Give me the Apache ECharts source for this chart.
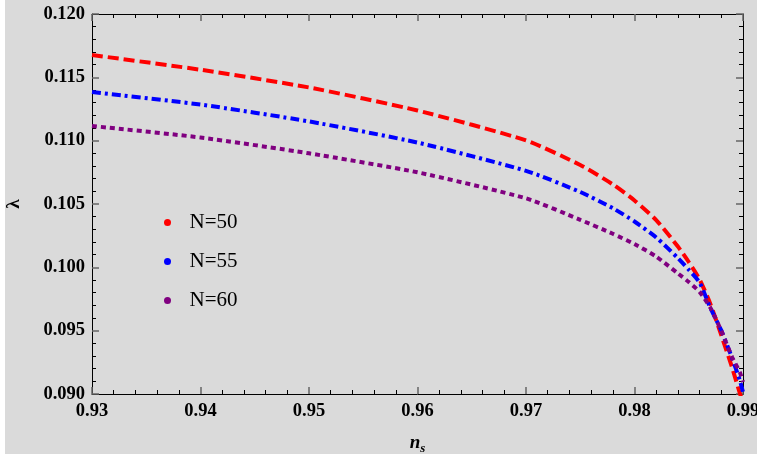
<!DOCTYPE html>
<html>
<head>
<meta charset="utf-8">
<script src="https://cdn.jsdelivr.net/npm/echarts@6/dist/echarts.min.js"></script>
<style>
html,body{margin:0;padding:0;background:#ffffff;}
#chart{position:absolute;left:5px;top:0;width:752px;height:454px;}
</style>
</head>
<body>
<div id="chart"></div>
<script>
// n_s grid
const ns = [0.93, 0.94, 0.95, 0.96, 0.97, 0.975, 0.978, 0.98, 0.982, 0.984, 0.985, 0.986, 0.987, 0.988, 0.989, 0.9897, 0.99];
// lambda values
const lamN50 = [0.11676, 0.11560, 0.11420, 0.11238, 0.11002, 0.10808, 0.10655, 0.10528, 0.10373, 0.10164, 0.10042, 0.09905, 0.09709, 0.09464, 0.09207, 0.09008, 0.0893];
const lamN55 = [0.11384, 0.11285, 0.11152, 0.10985, 0.10762, 0.10595, 0.10467, 0.10362, 0.10236, 0.10073, 0.09981, 0.09880, 0.09678, 0.09502, 0.09282, 0.09110, 0.09016];
const lamN60 = [0.11116, 0.11025, 0.10900, 0.10750, 0.10545, 0.10375, 0.10265, 0.10184, 0.10085, 0.09952, 0.09884, 0.09806, 0.09680, 0.09498, 0.09290, 0.09174, 0.09095];
const seriesNames = ['N=50', 'N=55', 'N=60'];
const xTicks = [0.93, 0.94, 0.95, 0.96, 0.97, 0.98, 0.99];
const yTicks = [0.090, 0.095, 0.100, 0.105, 0.110, 0.115, 0.120];

const pairs = arr => ns.map((x, i) => [x, arr[i]]);
const serif = "'Liberation Serif', 'Times New Roman', 'DejaVu Serif', serif";

const chart = echarts.init(document.getElementById('chart'));
const tickCommon = {
  axisLine: { show: true, onZero: false, lineStyle: { color: '#000', width: 1 } },
  axisTick: { show: true, inside: true, length: 7, lineStyle: { color: '#666', width: 1.5 } },
  minorTick: { show: true, splitNumber: 5, length: 4, lineStyle: { color: '#000', width: 1 } },
  splitLine: { show: false },
  minorSplitLine: { show: false }
};
const labelStyle = { fontFamily: serif, fontWeight: 'bold', fontSize: 18.5, color: '#000' };

chart.setOption({
  backgroundColor: '#dadada',
  animation: false,
  grid: { left: 87, right: 14, top: 14, bottom: 60, containLabel: false, outerBoundsMode: 'none' },
  legend: {
    data: seriesNames.map(n => ({ name: n, icon: 'circle' })),
    orient: 'vertical',
    left: 154,
    top: 207,
    itemWidth: 34,
    itemHeight: 7,
    itemGap: 18,
    textStyle: { fontFamily: serif, fontSize: 21, color: '#000', lineHeight: 20 }
  },
  xAxis: [
    Object.assign({
      type: 'value', min: xTicks[0], max: xTicks[xTicks.length - 1], interval: 0.01,
      position: 'bottom',
      name: '{n|n}{s|s}', nameLocation: 'middle', nameGap: 38,
      nameTextStyle: {
        rich: {
          n: { fontFamily: serif, fontStyle: 'italic', fontWeight: 'bold', fontSize: 19, color: '#000' },
          s: { fontFamily: serif, fontStyle: 'italic', fontWeight: 'bold', fontSize: 13, color: '#000', padding: [10, 0, 0, 0] }
        }
      },
      axisLabel: Object.assign({ margin: 8, formatter: v => v.toFixed(2) }, labelStyle)
    }, tickCommon),
    Object.assign({
      type: 'value', min: xTicks[0], max: xTicks[xTicks.length - 1], interval: 0.01,
      position: 'top', axisLabel: { show: false }
    }, tickCommon)
  ],
  yAxis: [
    Object.assign({
      type: 'value', min: yTicks[0], max: yTicks[yTicks.length - 1], interval: 0.005,
      position: 'left',
      name: 'λ', nameLocation: 'middle', nameGap: 68, nameRotate: 90,
      nameTextStyle: { fontFamily: serif, fontWeight: 'bold', fontSize: 19, color: '#000' },
      axisLabel: Object.assign({ margin: 7, formatter: v => v.toFixed(3) }, labelStyle)
    }, tickCommon),
    Object.assign({
      type: 'value', min: yTicks[0], max: yTicks[yTicks.length - 1], interval: 0.005,
      position: 'right', axisLabel: { show: false }
    }, tickCommon)
  ],
  series: [
    { name: seriesNames[0], type: 'line', data: pairs(lamN50), showSymbol: false, smooth: 0.2, clip: true,
      color: '#ff0000', lineStyle: { color: '#ff0000', width: 4, type: [11, 5] } },
    { name: seriesNames[1], type: 'line', data: pairs(lamN55), showSymbol: false, smooth: 0.2, clip: true,
      color: '#0000ff', lineStyle: { color: '#0000ff', width: 4, type: [9, 4, 3, 4] } },
    { name: seriesNames[2], type: 'line', data: pairs(lamN60), showSymbol: false, smooth: 0.2, clip: true,
      color: '#800080', lineStyle: { color: '#800080', width: 4, type: [5, 4] } }
  ]
});
</script>
</body>
</html>
